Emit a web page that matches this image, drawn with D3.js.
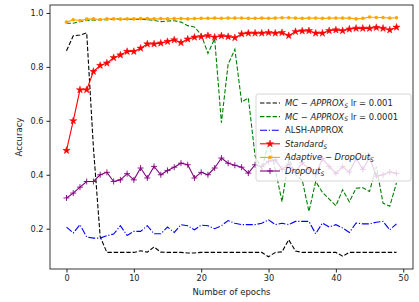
<!DOCTYPE html>
<meta charset="utf-8">
<script src="https://d3js.org/d3.v7.min.js"></script>
<style>
body { margin: 0; background: white; }
svg text { font-family: "DejaVu Sans", sans-serif; fill: #222; }
.tick text { font-size: 8.2px; }
.tick line { stroke: #222; }
</style>
<body>
<svg id="chart" width="419" height="302"></svg>
<script>
// epochs 0..49
var epochs = d3.range(0, 50);

var mcApproxLr001 = [0.86, 0.915, 0.918, 0.926, 0.50, 0.17, 0.112, 0.112, 0.112, 0.112,
    0.112, 0.118, 0.113, 0.132, 0.113, 0.112, 0.112, 0.112, 0.110, 0.110,
    0.112, 0.112, 0.112, 0.112, 0.112, 0.112, 0.112, 0.112, 0.112, 0.112,
    0.096, 0.112, 0.114, 0.159, 0.117, 0.112, 0.112, 0.112, 0.112, 0.112,
    0.112, 0.098, 0.112, 0.112, 0.112, 0.112, 0.112, 0.112, 0.112, 0.112];

var mcApproxLr0001 = [0.962, 0.962, 0.968, 0.972, 0.973, 0.974, 0.975, 0.977, 0.977, 0.976,
    0.976, 0.977, 0.975, 0.972, 0.968, 0.970, 0.971, 0.966, 0.953, 0.948,
    0.92, 0.85, 0.905, 0.593, 0.81, 0.865, 0.67, 0.685, 0.47, 0.42,
    0.52, 0.42, 0.30, 0.46, 0.40, 0.38, 0.264, 0.375, 0.335, 0.31,
    0.285, 0.344, 0.30, 0.35, 0.352, 0.338, 0.43, 0.295, 0.283, 0.37];

var alshApprox = [0.206, 0.184, 0.215, 0.169, 0.165, 0.165, 0.174, 0.18, 0.211, 0.175,
    0.19, 0.19, 0.211, 0.181, 0.181, 0.206, 0.186, 0.215, 0.211, 0.196,
    0.213, 0.211, 0.20, 0.211, 0.23, 0.22, 0.215, 0.215, 0.215, 0.22,
    0.233, 0.215, 0.22, 0.215, 0.227, 0.227, 0.227, 0.181, 0.221, 0.206,
    0.215, 0.203, 0.186, 0.221, 0.218, 0.218, 0.224, 0.227, 0.196, 0.218];

var standardS = [0.49, 0.60, 0.715, 0.715, 0.783, 0.805, 0.814, 0.834, 0.844, 0.857,
    0.857, 0.869, 0.885, 0.885, 0.888, 0.894, 0.90, 0.89, 0.903, 0.91,
    0.912, 0.916, 0.91, 0.915, 0.912, 0.908, 0.922, 0.925, 0.925, 0.925,
    0.927, 0.925, 0.927, 0.916, 0.931, 0.933, 0.934, 0.925, 0.925, 0.934,
    0.937, 0.934, 0.94, 0.943, 0.943, 0.943, 0.946, 0.943, 0.937, 0.947];

var adaptiveDropOutS = [0.966, 0.975, 0.972, 0.977, 0.978, 0.976, 0.978, 0.978, 0.977, 0.978,
    0.978, 0.979, 0.979, 0.978, 0.979, 0.978, 0.979, 0.979, 0.978, 0.979,
    0.98, 0.98, 0.981, 0.98, 0.981, 0.981, 0.981, 0.98, 0.98, 0.981,
    0.98, 0.981, 0.982, 0.982, 0.981, 0.98, 0.981, 0.981, 0.98, 0.981,
    0.981, 0.981, 0.981, 0.978, 0.98, 0.985, 0.983, 0.983, 0.981, 0.982];

var dropOutS = [0.314, 0.332, 0.354, 0.375, 0.375, 0.40, 0.409, 0.375, 0.381, 0.404,
    0.381, 0.425, 0.388, 0.431, 0.40, 0.416, 0.428, 0.443, 0.437, 0.388,
    0.409, 0.40, 0.425, 0.462, 0.443, 0.435, 0.428, 0.406, 0.437, 0.43,
    0.45, 0.455, 0.42, 0.44, 0.41, 0.445, 0.42, 0.40, 0.46, 0.43,
    0.405, 0.43, 0.41, 0.46, 0.42, 0.465, 0.395, 0.40, 0.41, 0.405];

var xTicks = [0, 10, 20, 30, 40, 50];
var yTicks = [0.2, 0.4, 0.6, 0.8, 1.0];

var series = [
    {values: mcApproxLr001, color: "black", dash: "4.4,1.9", marker: null},
    {values: mcApproxLr0001, color: "green", dash: "4.4,1.9", marker: null},
    {values: alshApprox, color: "blue", dash: "7,1.8,1.2,1.8", marker: null},
    {values: standardS, color: "red", dash: null, marker: "star"},
    {values: adaptiveDropOutS, color: "orange", dash: null, marker: "dot"},
    {values: dropOutS, color: "purple", dash: null, marker: "plus"}
];

var svg = d3.select("#chart");
var margin = {top: 5, right: 6, bottom: 33, left: 50};
var width = 419 - margin.left - margin.right;
var height = 302 - margin.top - margin.bottom;

var g = svg.append("g")
    .attr("transform", "translate(" + margin.left + "," + margin.top + ")");

var x = d3.scaleLinear().domain([-2.45, 51.45]).range([0, width]);
var y = d3.scaleLinear().domain([0.0505, 1.0295]).range([height, 0]);

var xAxis = g.append("g")
    .attr("transform", "translate(0," + height + ")")
    .call(d3.axisBottom(x).tickValues(xTicks).tickSizeInner(3.5).tickSizeOuter(0).tickPadding(3));
xAxis.select(".domain").remove();

var yAxis = g.append("g")
    .call(d3.axisLeft(y).tickValues(yTicks).tickFormat(d3.format(".1f")).tickSizeInner(3.5).tickSizeOuter(0).tickPadding(3));
yAxis.select(".domain").remove();

var line = d3.line()
    .x(function(d, i) { return x(epochs[i]); })
    .y(function(d) { return y(d); });

function drawMarker(sel, type, color) {
    if (type === "star") {
        sel.append("path")
            .attr("d", d3.symbol(d3.symbolStar).size(16))
            .attr("fill", color)
            .attr("stroke", color)
            .attr("stroke-width", 0.5);
    } else if (type === "dot") {
        sel.append("circle")
            .attr("r", 1.8)
            .attr("fill", color);
    } else if (type === "plus") {
        sel.append("path")
            .attr("d", "M-3,0H3M0,-3V3")
            .attr("stroke", color)
            .attr("stroke-width", 0.9);
    }
}

var plot = g.append("g");
series.forEach(function(s) {
    plot.append("path")
        .attr("d", line(s.values))
        .attr("fill", "none")
        .attr("stroke", s.color)
        .attr("stroke-width", 1.1)
        .attr("stroke-dasharray", s.dash);
    if (s.marker) {
        plot.append("g").selectAll("g")
            .data(s.values)
            .enter().append("g")
            .attr("transform", function(d, i) { return "translate(" + x(epochs[i]) + "," + y(d) + ")"; })
            .each(function() { drawMarker(d3.select(this), s.marker, s.color); });
    }
});

// frame
g.append("rect")
    .attr("width", width)
    .attr("height", height)
    .attr("fill", "none")
    .attr("stroke", "#222")
    .attr("stroke-width", 0.9);

// axis labels
svg.append("text")
    .attr("x", margin.left + width / 2)
    .attr("y", 295)
    .attr("text-anchor", "middle")
    .style("font-size", "8.5px")
    .text("Number of epochs");

svg.append("text")
    .attr("transform", "translate(22," + (margin.top + height / 2) + ") rotate(-90)")
    .attr("text-anchor", "middle")
    .style("font-size", "8.5px")
    .text("Accuracy");

// legend
var legend = svg.append("g").attr("transform", "translate(256,94)");
legend.append("rect")
    .attr("width", 155)
    .attr("height", 87)
    .attr("rx", 2)
    .attr("fill", "white")
    .attr("fill-opacity", 0.8)
    .attr("stroke", "#ccc")
    .attr("stroke-width", 0.8);

var labels = [
    [{t: "MC \u2212 APPROX", it: true}, {t: "S", it: true, sub: true}, {t: " lr = 0.001"}],
    [{t: "MC \u2212 APPROX", it: true}, {t: "S", it: true, sub: true}, {t: " lr = 0.0001"}],
    [{t: "ALSH-APPROX"}],
    [{t: "Standard", it: true}, {t: "S", it: true, sub: true}],
    [{t: "Adaptive \u2212 DropOut", it: true}, {t: "S", it: true, sub: true}],
    [{t: "DropOut", it: true}, {t: "S", it: true, sub: true}]
];

var rowH = 13.6;
series.forEach(function(s, i) {
    var row = legend.append("g").attr("transform", "translate(0," + (9 + i * rowH) + ")");
    row.append("line")
        .attr("x1", 4).attr("x2", 24)
        .attr("stroke", s.color)
        .attr("stroke-width", 1.1)
        .attr("stroke-dasharray", s.dash);
    if (s.marker) {
        var m = row.append("g").attr("transform", "translate(14,0)");
        drawMarker(m, s.marker, s.color);
    }
    var txt = row.append("text")
        .attr("x", 29)
        .attr("dy", "0.35em")
        .style("font-size", "8.4px");
    labels[i].forEach(function(p) {
        var ts = txt.append("tspan")
            .text(p.t)
            .style("font-style", p.it ? "italic" : "normal");
        if (p.sub) {
            ts.attr("dy", 1.8).style("font-size", "6px");
        } else if (p.t.charAt(0) === " ") {
            ts.attr("dy", -1.8);
        }
    });
});
</script>
</body>
